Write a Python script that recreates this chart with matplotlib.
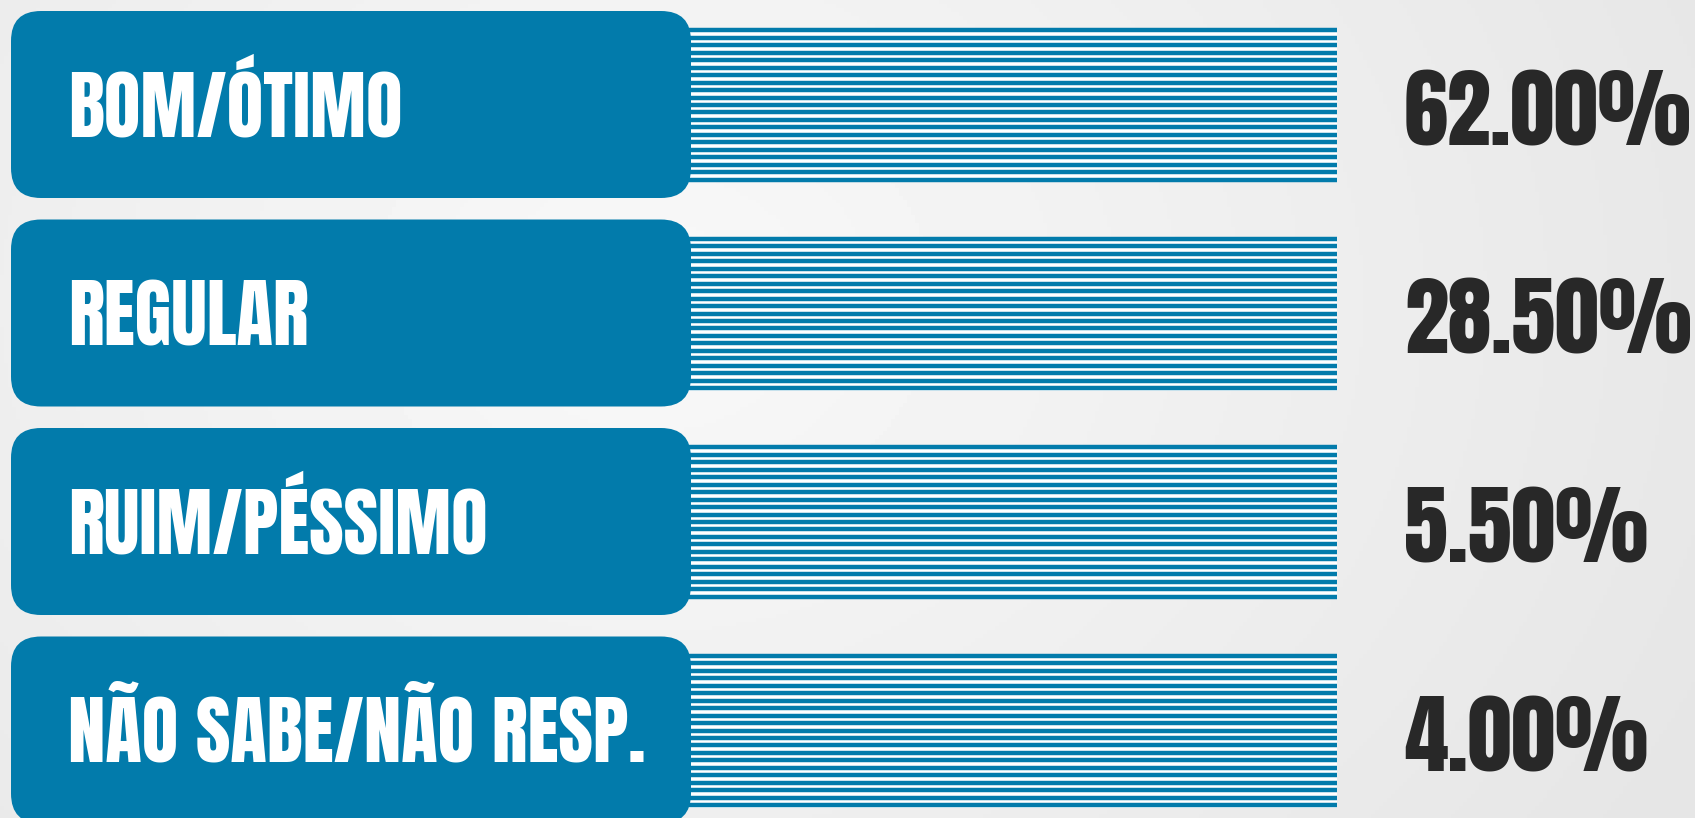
import numpy as np
import matplotlib
matplotlib.use("Agg")
import matplotlib.pyplot as plt
from matplotlib.patches import FancyBboxPatch, Rectangle


categories = ["BOM/ÓTIMO", "REGULAR", "RUIM/PÉSSIMO", "NÃO SABE/NÃO RESP."]
values = [62.00, 28.50, 5.50, 4.00]

BLUE = "#027bab"
DARK = "#282828"
FONT = ["Anton", "Oswald", "Liberation Sans Narrow", "DejaVu Sans"]

W, H = 1695, 818
fig = plt.figure(figsize=(W / 100, H / 100), dpi=100)
ax = fig.add_axes([0, 0, 1, 1])
ax.set_xlim(0, W)
ax.set_ylim(H, 0)
ax.axis("off")

# soft grey background
yy, xx = np.mgrid[0:H:4, 0:W:4]
d = np.sqrt(((xx - 650) / 1100.0) ** 2 + ((yy - 300) / 900.0) ** 2)
shade = np.clip(0.975 - 0.07 * d, 0.90, 0.975)
ax.imshow(shade, cmap="gray", vmin=0, vmax=1, extent=[0, W, H, 0],
          aspect="auto", zorder=0)

row_step = 208.5
box_h = 187
for i, (cat, val) in enumerate(zip(categories, values)):
    top = 11 + row_step * i
    mid = top + box_h / 2

    # striped band
    s_top, s_bot = top + 17, top + 171
    ax.add_patch(Rectangle((680, s_top), 1337 - 680, s_bot - s_top,
                           facecolor="white", edgecolor="none", zorder=1))
    ys = np.linspace(s_top + 2.2, s_bot - 2.2, 21)
    ax.hlines(ys, 680, 1337, color=BLUE, linewidth=3.2, zorder=2)

    # rounded label box
    ax.add_patch(FancyBboxPatch((11, top), 680, box_h,
                                boxstyle="round,pad=0,rounding_size=30",
                                facecolor=BLUE, edgecolor="none", zorder=3))
    ax.text(68, mid + 32, cat, color="white", fontsize=54, family=FONT,
            va="baseline", ha="left", zorder=4)

    ax.text(1404, mid + 41, f"{val:.2f}%", color=DARK, fontsize=63.5,
            family=FONT, va="baseline", ha="left", zorder=4)

fig.savefig("out.png", dpi=100)
